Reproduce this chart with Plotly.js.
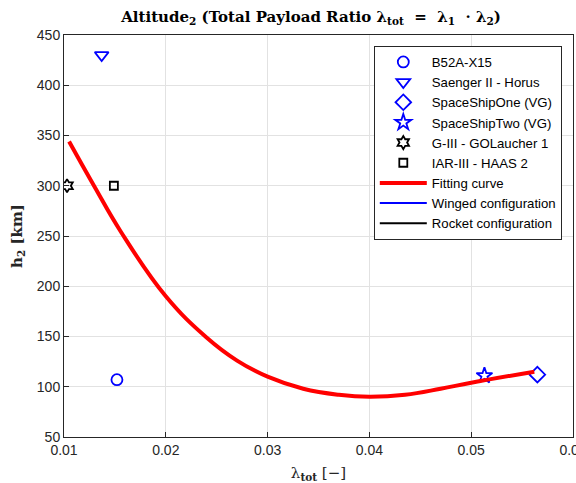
<!DOCTYPE html>
<html>
<head>
<meta charset="utf-8">
<script src="https://cdn.plot.ly/plotly-3.0.1.min.js"></script>
<style>html,body{margin:0;padding:0;background:#fff;}#chart{width:576px;height:483px;}</style>
</head>
<body>
<div id="chart"></div>
<script>
// Data points
const names = ["B52A-X15", "Saenger II - Horus", "SpaceShipOne (VG)", "SpaceShipTwo (VG)", "G-III - GOLaucher 1", "IAR-III - HAAS 2"];
const lambdaTot = [0.0152, 0.0137, 0.0565, 0.0513, 0.0103, 0.0149];
const altitude = [107, 430, 112, 111, 300, 300];

// Fitting curve
const fitX = [0.0105, 0.0130, 0.0156, 0.0200, 0.0240, 0.0270, 0.0300, 0.0335, 0.0370, 0.0400, 0.0435, 0.0470, 0.0500, 0.0562];
const fitY = [344, 299, 254, 190, 149, 126, 110, 98, 92, 90, 92, 98, 104, 115];

const xTicks = [0.01, 0.02, 0.03, 0.04, 0.05, 0.06];
const yTicks = [50, 100, 150, 200, 250, 300, 350, 400, 450];

const symbols = ["circle-open", "triangle-down-open", "diamond-open", "star-open", "hexagram-open", "square-open"];
const colors = ["#0000ff", "#0000ff", "#0000ff", "#0000ff", "#000000", "#000000"];
const sizes = [11, 12, 12, 12, 10, 8];

const traces = [];
for (let i = 0; i < names.length; i++) {
  traces.push({
    type: "scatter", mode: "markers", name: names[i],
    x: [lambdaTot[i]], y: [altitude[i]],
    marker: {symbol: symbols[i], size: sizes[i], color: colors[i], line: {color: colors[i], width: 1.8}}
  });
}
traces.push({type: "scatter", mode: "lines", name: "Fitting curve", x: fitX, y: fitY,
  line: {color: "#ff0000", width: 4, shape: "spline", smoothing: 1.2}});
traces.push({type: "scatter", mode: "lines", name: "Winged configuration", x: [null], y: [null],
  line: {color: "#0000ff", width: 2}});
traces.push({type: "scatter", mode: "lines", name: "Rocket configuration", x: [null], y: [null],
  line: {color: "#000000", width: 2}});

const axisCommon = {
  showline: true, linecolor: "#262626", linewidth: 1, mirror: true,
  ticks: "inside", ticklen: 5, tickcolor: "#262626",
  showgrid: true, gridcolor: "#e2e2e2", gridwidth: 1,
  zeroline: false, ticklabeloverflow: "allow",
  tickfont: {family: "Liberation Sans, Arial, sans-serif", size: 14, color: "#262626"}
};

const layout = {
  width: 576, height: 483,
  margin: {l: 64, r: 3, t: 35, b: 46},
  paper_bgcolor: "#fff", plot_bgcolor: "#fff",
  title: {
    text: "<b>Altitude<sub>2</sub> (Total Payload Ratio λ<sub>tot</sub>  =  λ<sub>1</sub>  · λ<sub>2</sub>)</b>",
    font: {family: "DejaVu Serif, serif", size: 15, color: "#000"},
    x: 0.54, xanchor: "center", y: 0.965, yanchor: "middle"
  },
  xaxis: Object.assign({}, axisCommon, {
    range: [0.01, 0.06], tickvals: xTicks, ticktext: xTicks.map(v => v.toFixed(2)),
    title: {text: "λ<sub><b>tot</b></sub> [−]", font: {family: "DejaVu Serif, serif", size: 15, color: "#262626"}, standoff: 10}
  }),
  yaxis: Object.assign({}, axisCommon, {
    range: [50, 450], tickvals: yTicks, ticktext: yTicks.map(String),
    title: {text: "<b>h<sub>2</sub> [km]</b>", font: {family: "DejaVu Serif, serif", size: 15, color: "#262626"}, standoff: 10}
  }),
  showlegend: true,
  legend: {
    x: 0.978, xanchor: "right", y: 0.973, yanchor: "top",
    bgcolor: "#fff", bordercolor: "#262626", borderwidth: 1,
    font: {family: "Liberation Sans, Arial, sans-serif", size: 13.2, color: "#000"},
    itemwidth: 47, tracegroupgap: 0
  }
};

Plotly.newPlot("chart", traces, layout, {displayModeBar: false, staticPlot: true});
</script>
</body>
</html>
